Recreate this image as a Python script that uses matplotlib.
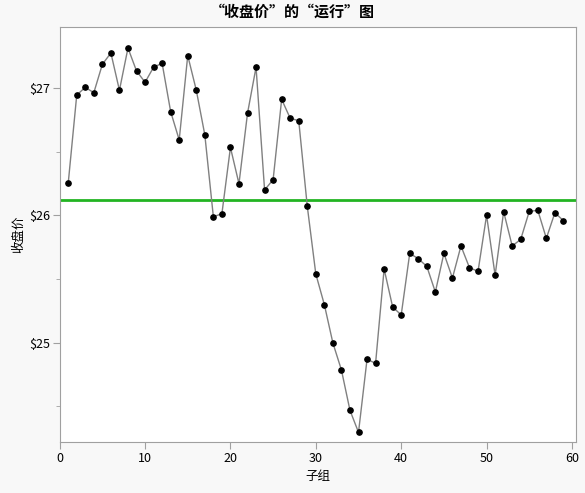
import matplotlib
matplotlib.use('agg')
import matplotlib.pyplot as plt
from matplotlib.ticker import MultipleLocator, FuncFormatter
import numpy as np

plt.rcParams['font.family'] = ['Noto Sans CJK SC', 'DejaVu Sans']

title = '“收盘价”的“运行”图'
x_label = '子组'
y_label = '收盘价'

close = [26.251, 26.945, 27.005, 26.963, 27.186, 27.275, 26.982, 27.314, 27.134, 27.045,
         27.163, 27.194, 26.814, 26.592, 27.255, 26.983, 26.632, 25.989, 26.012, 26.533,
         26.248, 26.801, 27.163, 26.199, 26.280, 26.911, 26.762, 26.743, 26.071, 25.539,
         25.298, 24.997, 24.785, 24.468, 24.295, 24.869, 24.837, 25.578, 25.280, 25.217,
         25.701, 25.659, 25.599, 25.397, 25.701, 25.507, 25.759, 25.588, 25.560, 26.000,
         25.529, 26.028, 25.759, 25.811, 26.031, 26.039, 25.819, 26.020, 25.958]
subgroup = np.arange(1, len(close) + 1)
center = np.mean(close)

fig = plt.figure(figsize=(5.85, 4.93), dpi=100, facecolor='#f8f8f8')
ax = fig.add_axes([0.102, 0.1034, 0.883, 0.8418])
ax.set_facecolor('white')

ax.axhline(center, color='#22b422', lw=2, zorder=2)
ax.plot(subgroup, close, color='#808080', lw=1, zorder=3)
ax.plot(subgroup, close, 'o', color='black', ms=3.8, zorder=4)

ax.set_xlim(0, 60.5)
ax.set_ylim(24.219, 27.479)
ax.xaxis.set_major_locator(MultipleLocator(10))
ax.yaxis.set_major_locator(MultipleLocator(1))
ax.yaxis.set_minor_locator(MultipleLocator(0.5))
ax.yaxis.set_major_formatter(FuncFormatter(lambda v, p: f'${v:.0f}'))

for s in ax.spines.values():
    s.set_color('#a0a0a0')
ax.tick_params(which='major', length=5, color='#a0a0a0', labelsize=9, pad=2)
ax.tick_params(which='minor', length=3, color='#a0a0a0')

fig.text(0.5, 0.976, title, fontsize=10.8, fontweight='bold', ha='center', va='center')
ax.set_xlabel(x_label, fontsize=9, labelpad=4)
ax.set_ylabel(y_label, fontsize=9, labelpad=3)

fig.savefig('out.png', dpi=100, facecolor=fig.get_facecolor())
